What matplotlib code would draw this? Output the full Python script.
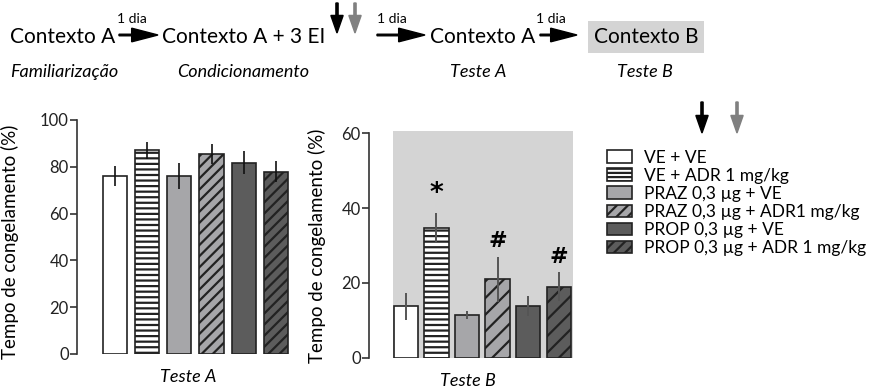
import numpy as np
import matplotlib
matplotlib.use("Agg")
import matplotlib.pyplot as plt
from matplotlib.patches import Rectangle, Patch, FancyArrow

plt.rcParams['font.family'] = ['Lato', 'DejaVu Sans']
plt.rcParams['hatch.linewidth'] = 1.6

# data
grupos = ['VE + VE', 'VE + ADR 1 mg/kg', 'PRAZ 0,3 µg + VE',
          'PRAZ 0,3 µg + ADR1 mg/kg', 'PROP 0,3 µg + VE', 'PROP 0,3 µg + ADR 1 mg/kg']
teste_a = [76, 87, 76, 85.3, 81.8, 77.9]
teste_a_err = [4.3, 3.5, 5.5, 4.3, 5.0, 4.6]
teste_b = [13.7, 34.7, 11.4, 21.0, 13.9, 19.0]
teste_b_err = [3.5, 4.0, 1.0, 6.0, 2.7, 3.8]
marcas_b = ['', '*', '', '#', '', '#']

cores = ['white', 'white', '#a6a6a9', '#a6a6a9', '#5c5c5c', '#5c5c5c']
hatch_a = [None, '---', None, '///', None, '///']
hatch_b = [None, '---', None, '//', None, '//']
hatch_leg = [None, '----', None, '///', None, '///']

W, H = 878, 390
fig = plt.figure(figsize=(W / 100, H / 100), dpi=100)


def px_axes(x0, y_top, x1, y_bot):
    return fig.add_axes([x0 / W, 1 - y_bot / H, (x1 - x0) / W, (y_bot - y_top) / H])


def style(ax, ymax, step):
    for s in ['top', 'right', 'bottom']:
        ax.spines[s].set_visible(False)
    ax.spines['left'].set_color('#333333')
    ax.spines['left'].set_linewidth(1.2)
    ax.spines['left'].set_bounds(0, ymax)
    ax.set_ylim(0, ymax)
    ax.set_yticks(np.arange(0, ymax + 1, step))
    ax.tick_params(axis='y', length=5, width=1.2, color='#333333', labelsize=12,
                   labelcolor='#222222', pad=1)
    ax.set_xticks([])
    ax.patch.set_alpha(0)


x = np.arange(6)

# Teste A
axA = px_axes(77, 120, 295, 354)
axA.set_xlim(-1.19, 5.6)
style(axA, 100, 20)
for i in x:
    axA.bar(i, teste_a[i], width=0.75, color=cores[i], edgecolor='#222222',
            linewidth=1.2, hatch=hatch_a[i], zorder=2)
axA.errorbar(x, teste_a, yerr=teste_a_err, fmt='none', ecolor='#111111',
             elinewidth=1.2, capsize=0, zorder=3)
axA.set_ylabel('Tempo de congelamento (%)', fontsize=13.5)
axA.yaxis.set_label_coords(-0.268, 0.48)
axA.text(0.51, -0.065, 'Teste A', transform=axA.transAxes, ha='center', va='top',
         fontsize=13, style='italic')

# Teste B
axB = px_axes(369, 133.3, 580, 357.7)
axB.set_xlim(-1.21, 5.70)
style(axB, 60, 20)
axB.add_patch(Rectangle((-0.42, 0), 5.9, 60.7, color='#d4d4d4', lw=0,
                        zorder=0, clip_on=False))
for i in x:
    axB.bar(i, teste_b[i], width=0.79, color=cores[i], edgecolor='#222222',
            linewidth=1.2, hatch=hatch_b[i], zorder=2)
axB.errorbar(x, teste_b, yerr=teste_b_err, fmt='none', ecolor='#555555',
             elinewidth=1.4, capsize=0, zorder=3)
for i in x:
    if marcas_b[i]:
        y = teste_b[i] + teste_b_err[i] + 1.5
        axB.text(i, y, marcas_b[i], ha='center', va='bottom',
                 fontsize=19 if marcas_b[i] == '*' else 16,
                 fontweight='bold', family=['DejaVu Sans'])
axB.set_ylabel('Tempo de congelamento (%)', fontsize=13.5)
axB.yaxis.set_label_coords(-0.205, 0.50)
axB.text(0.47, -0.07, 'Teste B', transform=axB.transAxes, ha='center', va='top',
         fontsize=13, style='italic')

# legend
handles = [Patch(facecolor=cores[i], edgecolor='#222222', linewidth=1.2,
                 hatch=hatch_leg[i]) for i in x]
fig.legend(handles, grupos, loc='upper left', bbox_to_anchor=(598 / W, 1 - 141 / H),
           frameon=False, fontsize=12.5, handlelength=1.45, handleheight=0.75,
           handletextpad=0.7, labelspacing=0.12, borderpad=0)

# top scheme
ft = 15
yc = 37
fig.text(10 / W, 1 - yc / H, 'Contexto A', fontsize=ft, va='center')
fig.text(162 / W, 1 - yc / H, 'Contexto A + 3 EI', fontsize=ft, va='center')
fig.text(430 / W, 1 - yc / H, 'Contexto A', fontsize=ft, va='center')
fig.text(594 / W, 1 - yc / H, 'Contexto B', fontsize=ft, va='center',
         bbox=dict(facecolor='#d4d4d4', edgecolor='none', pad=4))

for xa, xb, xt in [(119, 158, 132), (377, 425, 392), (540, 577, 551)]:
    fig.add_artist(FancyArrow(
        xa / W, 1 - 35 / H, (xb - xa) / W, 0, width=0.004, head_width=0.035,
        head_length=0.030, length_includes_head=True, color='black',
        transform=fig.transFigure))
    fig.text(xt / W, 1 - 19 / H, '1 dia', fontsize=10, ha='center', va='center')

for xa, ya, yb, c in [(337, 3, 33, 'black'), (355, 3, 33, 'grey'),
                      (702, 102, 133, 'black'), (737, 102, 133, 'grey')]:
    fig.add_artist(FancyArrow(
        xa / W, 1 - ya / H, 0, -(yb - ya) / H, width=0.0025, head_width=0.014,
        head_length=0.045, length_includes_head=True, color=c,
        transform=fig.transFigure))

fs = 13
fig.text(10 / W, 1 - 72 / H, 'Familiarização', fontsize=fs, style='italic', va='center')
fig.text(177 / W, 1 - 72 / H, 'Condicionamento', fontsize=fs, style='italic', va='center')
fig.text(450 / W, 1 - 72 / H, 'Teste A', fontsize=fs, style='italic', va='center')
fig.text(617 / W, 1 - 72 / H, 'Teste B', fontsize=fs, style='italic', va='center')

fig.savefig('out.png', dpi=100)
